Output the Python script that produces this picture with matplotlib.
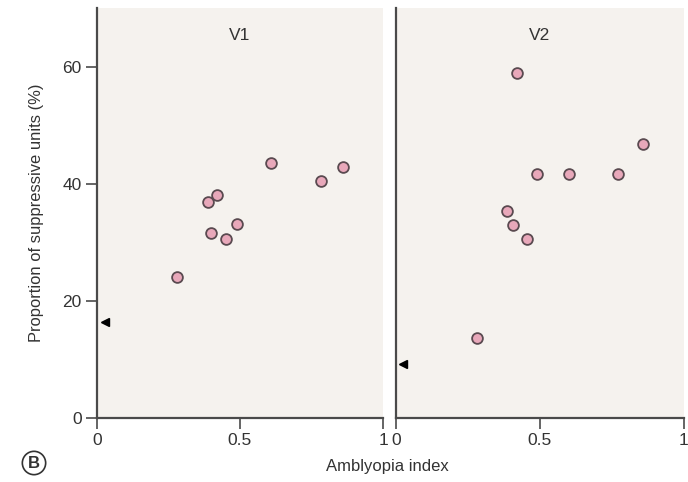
import matplotlib
matplotlib.use("Agg")
import matplotlib.pyplot as plt

plt.rcParams['font.family'] = ['Liberation Sans', 'DejaVu Sans']

# amblyopia index vs proportion of suppressive units (%)
v1_x = [0.279, 0.389, 0.418, 0.399, 0.452, 0.490, 0.607, 0.784, 0.861]
v1_y = [24.0, 36.9, 38.1, 31.6, 30.5, 33.2, 43.6, 40.4, 42.9]
v1_normal = 16.4

v2_x = [0.419, 0.859, 0.490, 0.602, 0.772, 0.384, 0.407, 0.456, 0.280]
v2_y = [58.9, 46.8, 41.6, 41.6, 41.6, 35.3, 32.9, 30.6, 13.7]
v2_normal = 9.3

W, H = 688, 482
fig = plt.figure(figsize=(W / 100, H / 100), dpi=100)

panel_bg = '#f5f2ee'
axis_col = '#4a4a4a'
text_col = '#333333'


def setup(ax, title, show_y):
    ax.set_facecolor(panel_bg)
    ax.set_xlim(0, 1)
    ax.set_ylim(0, 70)
    for s in ['top', 'right']:
        ax.spines[s].set_visible(False)
    for s in ['left', 'bottom']:
        ax.spines[s].set_color(axis_col)
        ax.spines[s].set_linewidth(1.6)
    ax.set_xticks([0, 0.5, 1])
    ax.set_xticklabels(['0', '0.5', '1'])
    if show_y:
        ax.set_yticks([0, 20, 40, 60])
    else:
        ax.set_yticks([])
    ax.tick_params(axis='both', length=8, width=1.2, color=axis_col,
                   labelsize=12.5, labelcolor=text_col, pad=3)
    ax.text(0.5, 65.3, title, ha='center', va='center', fontsize=12.5,
            color=text_col)


ax1 = fig.add_axes([97 / W, 64 / H, 286 / W, 410 / H])
setup(ax1, 'V1', True)
ax1.scatter(v1_x, v1_y, s=60, facecolor='#e8a8ba', edgecolor='#5a4a50',
            linewidth=1.3, zorder=3, clip_on=False)
ax1.plot([0.028], [v1_normal], marker='<', color='black', markersize=6,
         linestyle='none', zorder=3)
ax1.set_ylabel('Proportion of suppressive units (%)', fontsize=11.9,
               color=text_col, labelpad=13)

ax2 = fig.add_axes([396 / W, 64 / H, 288 / W, 410 / H])
setup(ax2, 'V2', False)
ax2.scatter(v2_x, v2_y, s=60, facecolor='#e8a8ba', edgecolor='#5a4a50',
            linewidth=1.3, zorder=3, clip_on=False)
ax2.plot([0.025], [v2_normal], marker='<', color='black', markersize=6,
         linestyle='none', zorder=3)

fig.text(387 / W, 1 - 467 / H, 'Amblyopia index', ha='center', va='center',
         fontsize=12, color=text_col)
fig.text(34 / W, 1 - 463 / H, 'B', ha='center', va='center', fontsize=12,
         fontweight='bold', color=text_col,
         bbox=dict(boxstyle='circle,pad=0.25', facecolor='white',
                   edgecolor=text_col, linewidth=1.2))

fig.savefig('out.png', dpi=100)
